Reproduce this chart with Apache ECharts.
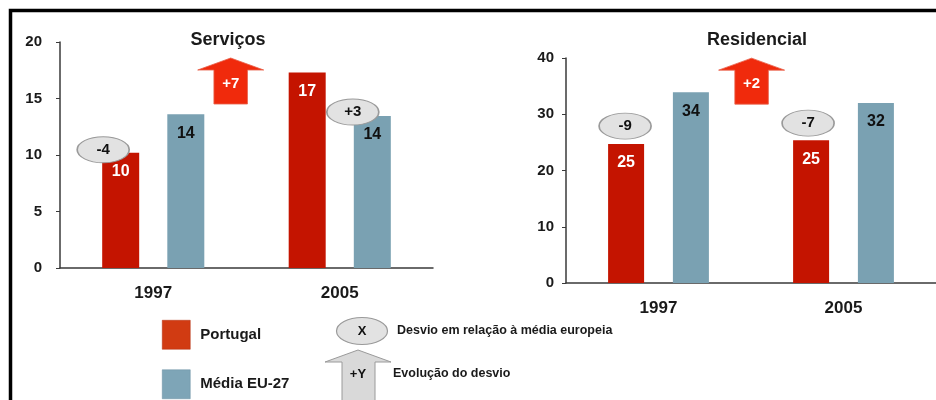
<!DOCTYPE html>
<html>
<head>
<meta charset="utf-8">
<script src="https://cdn.jsdelivr.net/npm/echarts@6/dist/echarts.min.js"></script>
<style>
  html, body { margin: 0; padding: 0; background: #fff; }
  #chart { width: 936px; height: 400px; }
</style>
</head>
<body>
<div id="chart"></div>
<script>
// dados
const anos = ['1997', '2005']
const servPortugal = [10.2, 17.3]
const servEU = [13.6, 13.45]
const resPortugal = [24.7, 25.4]
const resEU = [33.9, 32.0]
const servPortugalLabel = ['10', '17']
const servEULabel = ['14', '14']
const resPortugalLabel = ['25', '25']
const resEULabel = ['34', '32']
const servDesvio = ['-4', '+3']
const resDesvio = ['-9', '-7']
const servEvolucao = '+7'
const resEvolucao = '+2'
const servAxis = { min: 0, max: 20, interval: 5 }
const resAxis = { min: 0, max: 40, interval: 10 }

const FONT = '"Liberation Sans", Arial, sans-serif'
const RED = '#C41400'
const BLUE = '#7AA1B2'
const ARROW = 'path://M32.5,0 L65,12 L49,12 L49,46 L16,46 L16,12 L0,12 Z'

function ellipse(name, cat, value, offset) {
  return {
    name: name,
    coord: [cat, value],
    symbol: 'circle',
    symbolSize: [52, 26],
    symbolOffset: offset,
    itemStyle: { color: '#E2E2E2', borderColor: '#9A9A9A', borderWidth: 1.2 },
    label: { show: true, formatter: '{b}', color: '#111', fontSize: 15, fontWeight: 'bold', fontFamily: FONT }
  }
}

function arrow(name, cat, value, offset) {
  return {
    name: name,
    coord: [cat, value],
    symbol: ARROW,
    symbolSize: [66, 46],
    symbolOffset: offset,
    itemStyle: { color: '#F02A0C', borderColor: '#E8604A', borderWidth: 0.8 },
    label: { show: true, formatter: '{b}', color: '#fff', fontSize: 15, fontWeight: 'bold', fontFamily: FONT, offset: [0, 3] }
  }
}

function barLabel(labels, color) {
  return {
    show: true,
    position: 'insideTop',
    distance: 11,
    color: color,
    fontSize: 16,
    fontWeight: 'bold',
    fontFamily: FONT,
    formatter: p => labels[p.dataIndex]
  }
}

function catAxis(gridIndex) {
  return {
    type: 'category',
    gridIndex: gridIndex,
    data: anos,
    axisLine: { lineStyle: { color: '#3a3a3a', width: 1.5 } },
    axisTick: { length: 4, lineStyle: { color: '#3a3a3a' } },
    axisLabel: { margin: 17, color: '#1a1a1a', fontSize: 17, fontWeight: 'bold', fontFamily: FONT }
  }
}

function valAxis(gridIndex, cfg, margin) {
  return {
    type: 'value',
    gridIndex: gridIndex,
    min: cfg.min,
    max: cfg.max,
    interval: cfg.interval,
    splitLine: { show: false },
    axisLine: { show: true, lineStyle: { color: '#3a3a3a', width: 1.5 } },
    axisTick: { show: true, length: 4, lineStyle: { color: '#3a3a3a' } },
    axisLabel: { margin: margin, color: '#1a1a1a', fontSize: 15, fontWeight: 'bold', fontFamily: FONT }
  }
}

const chart = echarts.init(document.getElementById('chart'))

const option = {
  animation: false,
  backgroundColor: '#fff',
  title: [
    { text: 'Serviços', left: 223, top: 26, textAlign: 'center',
      textStyle: { fontSize: 18, fontWeight: 'bold', color: '#1a1a1a', fontFamily: FONT } },
    { text: 'Residencial', left: 752, top: 26, textAlign: 'center',
      textStyle: { fontSize: 18, fontWeight: 'bold', color: '#1a1a1a', fontFamily: FONT } }
  ],
  legend: {
    orient: 'vertical',
    left: 162,
    top: 320,
    padding: 0,
    itemWidth: 28,
    itemHeight: 29,
    itemGap: 20,
    icon: 'rect',
    selectedMode: false,
    textStyle: { fontSize: 15, fontWeight: 'bold', color: '#1a1a1a', fontFamily: FONT, padding: [0, 0, 0, 5] },
    data: [
      { name: 'Portugal', itemStyle: { color: '#D13B12', borderColor: '#B03010', borderWidth: 0.5 } },
      { name: 'Média EU-27', itemStyle: { color: '#7EA5B7', borderColor: '#6A8FA0', borderWidth: 0.5 } }
    ]
  },
  grid: [
    { left: 60, top: 42, width: 373, height: 226 },
    { left: 566, top: 58, width: 376, height: 225 }
  ],
  xAxis: [catAxis(0), catAxis(1)],
  yAxis: [valAxis(0, servAxis, 18), valAxis(1, resAxis, 12)],
  graphic: [
    // moldura
    { type: 'rect', left: 8, top: 8, shape: { width: 1100, height: 600 },
      style: { fill: 'none', stroke: '#000', lineWidth: 3.5 }, silent: true },
    // legenda das anotações
    { type: 'ellipse', shape: { cx: 362, cy: 331, rx: 25.5, ry: 13.5 },
      style: { fill: '#E2E2E2', stroke: '#9A9A9A', lineWidth: 1.2 } },
    { type: 'text', x: 362, y: 331,
      style: { text: 'X', align: 'center', verticalAlign: 'middle', font: 'bold 13px ' + FONT, fill: '#111' } },
    { type: 'text', x: 397, y: 331,
      style: { text: 'Desvio em relação à média europeia', verticalAlign: 'middle', font: 'bold 12.5px ' + FONT, fill: '#1a1a1a' } },
    { type: 'polygon', shape: { points: [[358, 350], [391, 362], [375, 362], [375, 410], [342, 410], [342, 362], [325, 362]] },
      style: { fill: '#D9D9D9', stroke: '#9A9A9A', lineWidth: 1 } },
    { type: 'text', x: 358, y: 374,
      style: { text: '+Y', align: 'center', verticalAlign: 'middle', font: 'bold 13px ' + FONT, fill: '#111' } },
    { type: 'text', x: 393, y: 374,
      style: { text: 'Evolução do desvio', verticalAlign: 'middle', font: 'bold 12.5px ' + FONT, fill: '#1a1a1a' } }
  ],
  series: [
    {
      name: 'Portugal', type: 'bar', xAxisIndex: 0, yAxisIndex: 0,
      data: servPortugal, barWidth: 37, barGap: '76%',
      itemStyle: { color: RED },
      label: barLabel(servPortugalLabel, '#fff'),
      markPoint: {
        data: [
          ellipse(servDesvio[0], anos[0], servPortugal[0], [-17.5, -3]),
          arrow(servEvolucao, anos[1], servPortugal[1], [-76.5, 8.5])
        ]
      }
    },
    {
      name: 'Média EU-27', type: 'bar', xAxisIndex: 0, yAxisIndex: 0,
      data: servEU, barWidth: 37, barGap: '76%',
      itemStyle: { color: BLUE },
      label: barLabel(servEULabel, '#111'),
      markPoint: {
        data: [ellipse(servDesvio[1], anos[1], servEU[1], [-19.5, -4])]
      }
    },
    {
      name: 'Portugal', type: 'bar', xAxisIndex: 1, yAxisIndex: 1,
      data: resPortugal, barWidth: 36, barGap: '80%',
      itemStyle: { color: RED },
      label: barLabel(resPortugalLabel, '#fff'),
      markPoint: {
        data: [
          ellipse(resDesvio[0], anos[0], resPortugal[0], [-1, -18]),
          ellipse(resDesvio[1], anos[1], resPortugal[1], [-3, -17]),
          arrow(resEvolucao, anos[1], resPortugal[1], [-59.5, -59])
        ]
      }
    },
    {
      name: 'Média EU-27', type: 'bar', xAxisIndex: 1, yAxisIndex: 1,
      data: resEU, barWidth: 36, barGap: '80%',
      itemStyle: { color: BLUE },
      label: barLabel(resEULabel, '#111')
    }
  ]
}

chart.setOption(option)
</script>
</body>
</html>
